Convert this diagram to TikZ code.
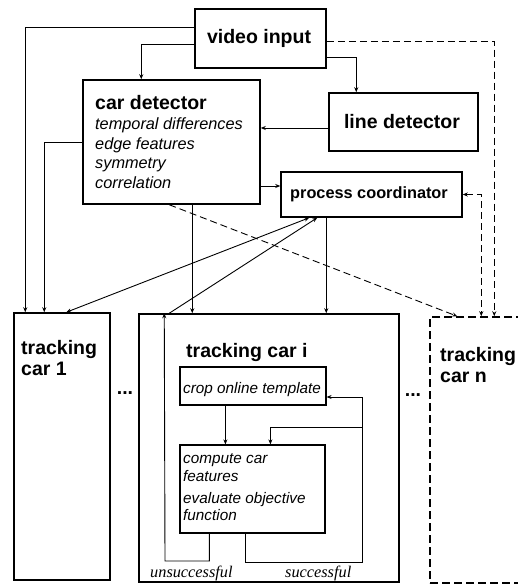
\documentclass[tikz,border=0pt]{standalone}
\usepackage{fontspec}
\setmainfont{Liberation Sans}
\newfontfamily\labelserif{Liberation Serif}
\usetikzlibrary{arrows.meta}

\begin{document}
\begin{tikzpicture}[x=1pt,y=-1pt,
  box/.style={draw, line width=1.5pt, inner sep=0pt},
  dbox/.style={box, dash pattern=on 8pt off 4pt},
  head/.style={font=\fontsize{19.5}{22}\selectfont\bfseries, inner sep=0pt},
  lefthead/.style={head, anchor=base west},
  note/.style={font=\fontsize{16.3}{19}\selectfont\itshape, inner sep=0pt, anchor=base west},
  smallnote/.style={font=\fontsize{15.3}{18}\selectfont\itshape, inner sep=0pt, anchor=base west},
  outcome/.style={font=\labelserif\fontsize{16.3}{18}\selectfont\itshape, inner sep=0pt, anchor=base west},
  tip/.style={-{Stealth[length=5pt,width=4pt]}},
  link/.style={line width=0.9pt, tip},
  dlink/.style={link, dash pattern=on 7pt off 4pt},
]
\useasboundingbox (0,0) rectangle (517,585);

% upper blocks
\node[box, minimum width=131pt, minimum height=59pt] (vid) at (260.5,38.5) {};
\node[head] (vidt) at (259,38.5) {video input};
\node[box, minimum width=149pt, minimum height=58pt] (ld) at (403.5,122) {};
\node[head] (ldt) at (402,122) {line detector};
\node[box, minimum width=181pt, minimum height=45pt] (pc) at (371.5,194.5) {};
\node[head, font=\fontsize{16.3}{18}\selectfont\bfseries] (pct) at (369,194.5) {process coordinator};

% car detector and its cues
\node[box, minimum width=177pt, minimum height=124pt] (cd) at (171.5,142) {};
\node[lefthead] (cdt) at (95,110) {car detector};
\node[note] (cd1) at (95,130) {temporal differences};
\node[note] (cd2) at (95,149.5) {edge features};
\node[note] (cd3) at (95,169) {symmetry};
\node[note] (cd4) at (95,188.5) {correlation};

% tracking processes
\node[box, minimum width=96pt, minimum height=267pt] (tc1) at (62,446.5) {};
\node[lefthead] (tc1a) at (21,354) {tracking};
\node[lefthead] (tc1b) at (21,375) {car 1};
\node[box, minimum width=260pt, minimum height=268pt] (tci) at (269,448) {};
\node[lefthead] (tcit) at (186,357) {tracking car i};
\node[dbox, minimum width=160pt, minimum height=266pt] (tcn) at (510,450) {};
\node[lefthead] (tcna) at (440,361) {tracking};
\node[lefthead] (tcnb) at (440,382) {car n};
\node[head] (dots1) at (125,393) {...};
\node[head] (dots2) at (413,395) {...};

% inner loop of tracking car i
\node[box, line width=1.2pt, minimum width=146pt, minimum height=38pt] (crop) at (253,386) {};
\node[smallnote] (cropt) at (183,393) {crop online template};
\node[box, line width=1.2pt, minimum width=145pt, minimum height=88pt] (cmp) at (252.5,489) {};
\node[smallnote] (cmp1) at (183,463) {compute car};
\node[smallnote] (cmp2) at (183,481) {features};
\node[smallnote] (cmp3) at (183,503) {evaluate objective};
\node[smallnote] (cmp4) at (183,520) {function};
\node[outcome] (uns) at (150,577) {unsuccessful};
\node[outcome] (suc) at (285,577) {successful};

\coordinate (sr) at (362,562);
\coordinate (sb) at (362,427);
\coordinate (ul) at (165,561);

% video input feeds
\draw[link] ([yshift=-19pt]vid.north west) -| ([xshift=12pt]tc1.north west);
\draw[link] ([yshift=-36pt]vid.north west) -| ([xshift=59pt]cd.north west);
\draw[link] ([yshift=-49pt]vid.north east) -| ([xshift=28pt]ld.north west);
\draw[dlink] ([yshift=-33pt]vid.north east) -| ([xshift=65pt]tcn.north west);

% detectors
\draw[link] ([yshift=-6pt]ld.west) -- ([yshift=14pt]cd.east);
\draw[link] ([yshift=-44pt]cd.east) -- ([yshift=8.5pt]pc.west);
\draw[link] ([yshift=-63pt]cd.north west) -| ([xshift=31pt]tc1.north west);
\draw[link] ([xshift=110pt]cd.south west) -- ([xshift=54pt]tci.north west);
\draw[dlink] ([xshift=87pt]cd.south west) -- ([xshift=28pt]tcn.north west);

% coordinator links
\draw[link, {Stealth[length=5pt,width=4pt]}-{Stealth[length=5pt,width=4pt]}] ([xshift=29pt]pc.south west) -- ([xshift=53pt]tc1.north west);
\draw[link] ([xshift=31pt]tci.north west) -- ([xshift=37pt]pc.south west);
\draw[link] ([xshift=46pt]pc.south west) -- ([xshift=188pt]tci.north west);
\draw[dlink, {Stealth[length=5pt,width=4pt]}-{Stealth[length=5pt,width=4pt]}] (pc.east) -| ([xshift=52pt]tcn.north west);

% template loop
\draw[link] ([xshift=46pt]crop.south west) -- ([xshift=46pt]cmp.north west);
\draw[link] ([xshift=66pt]cmp.south west) |- (sr) |- ([yshift=-11pt]crop.east);
\draw[link] (sb) -| ([xshift=91pt]cmp.north west);
\draw[link] ([xshift=30pt]cmp.south west) |- (ul) -- ([xshift=26pt]tci.north west);
\end{tikzpicture}
\end{document}
